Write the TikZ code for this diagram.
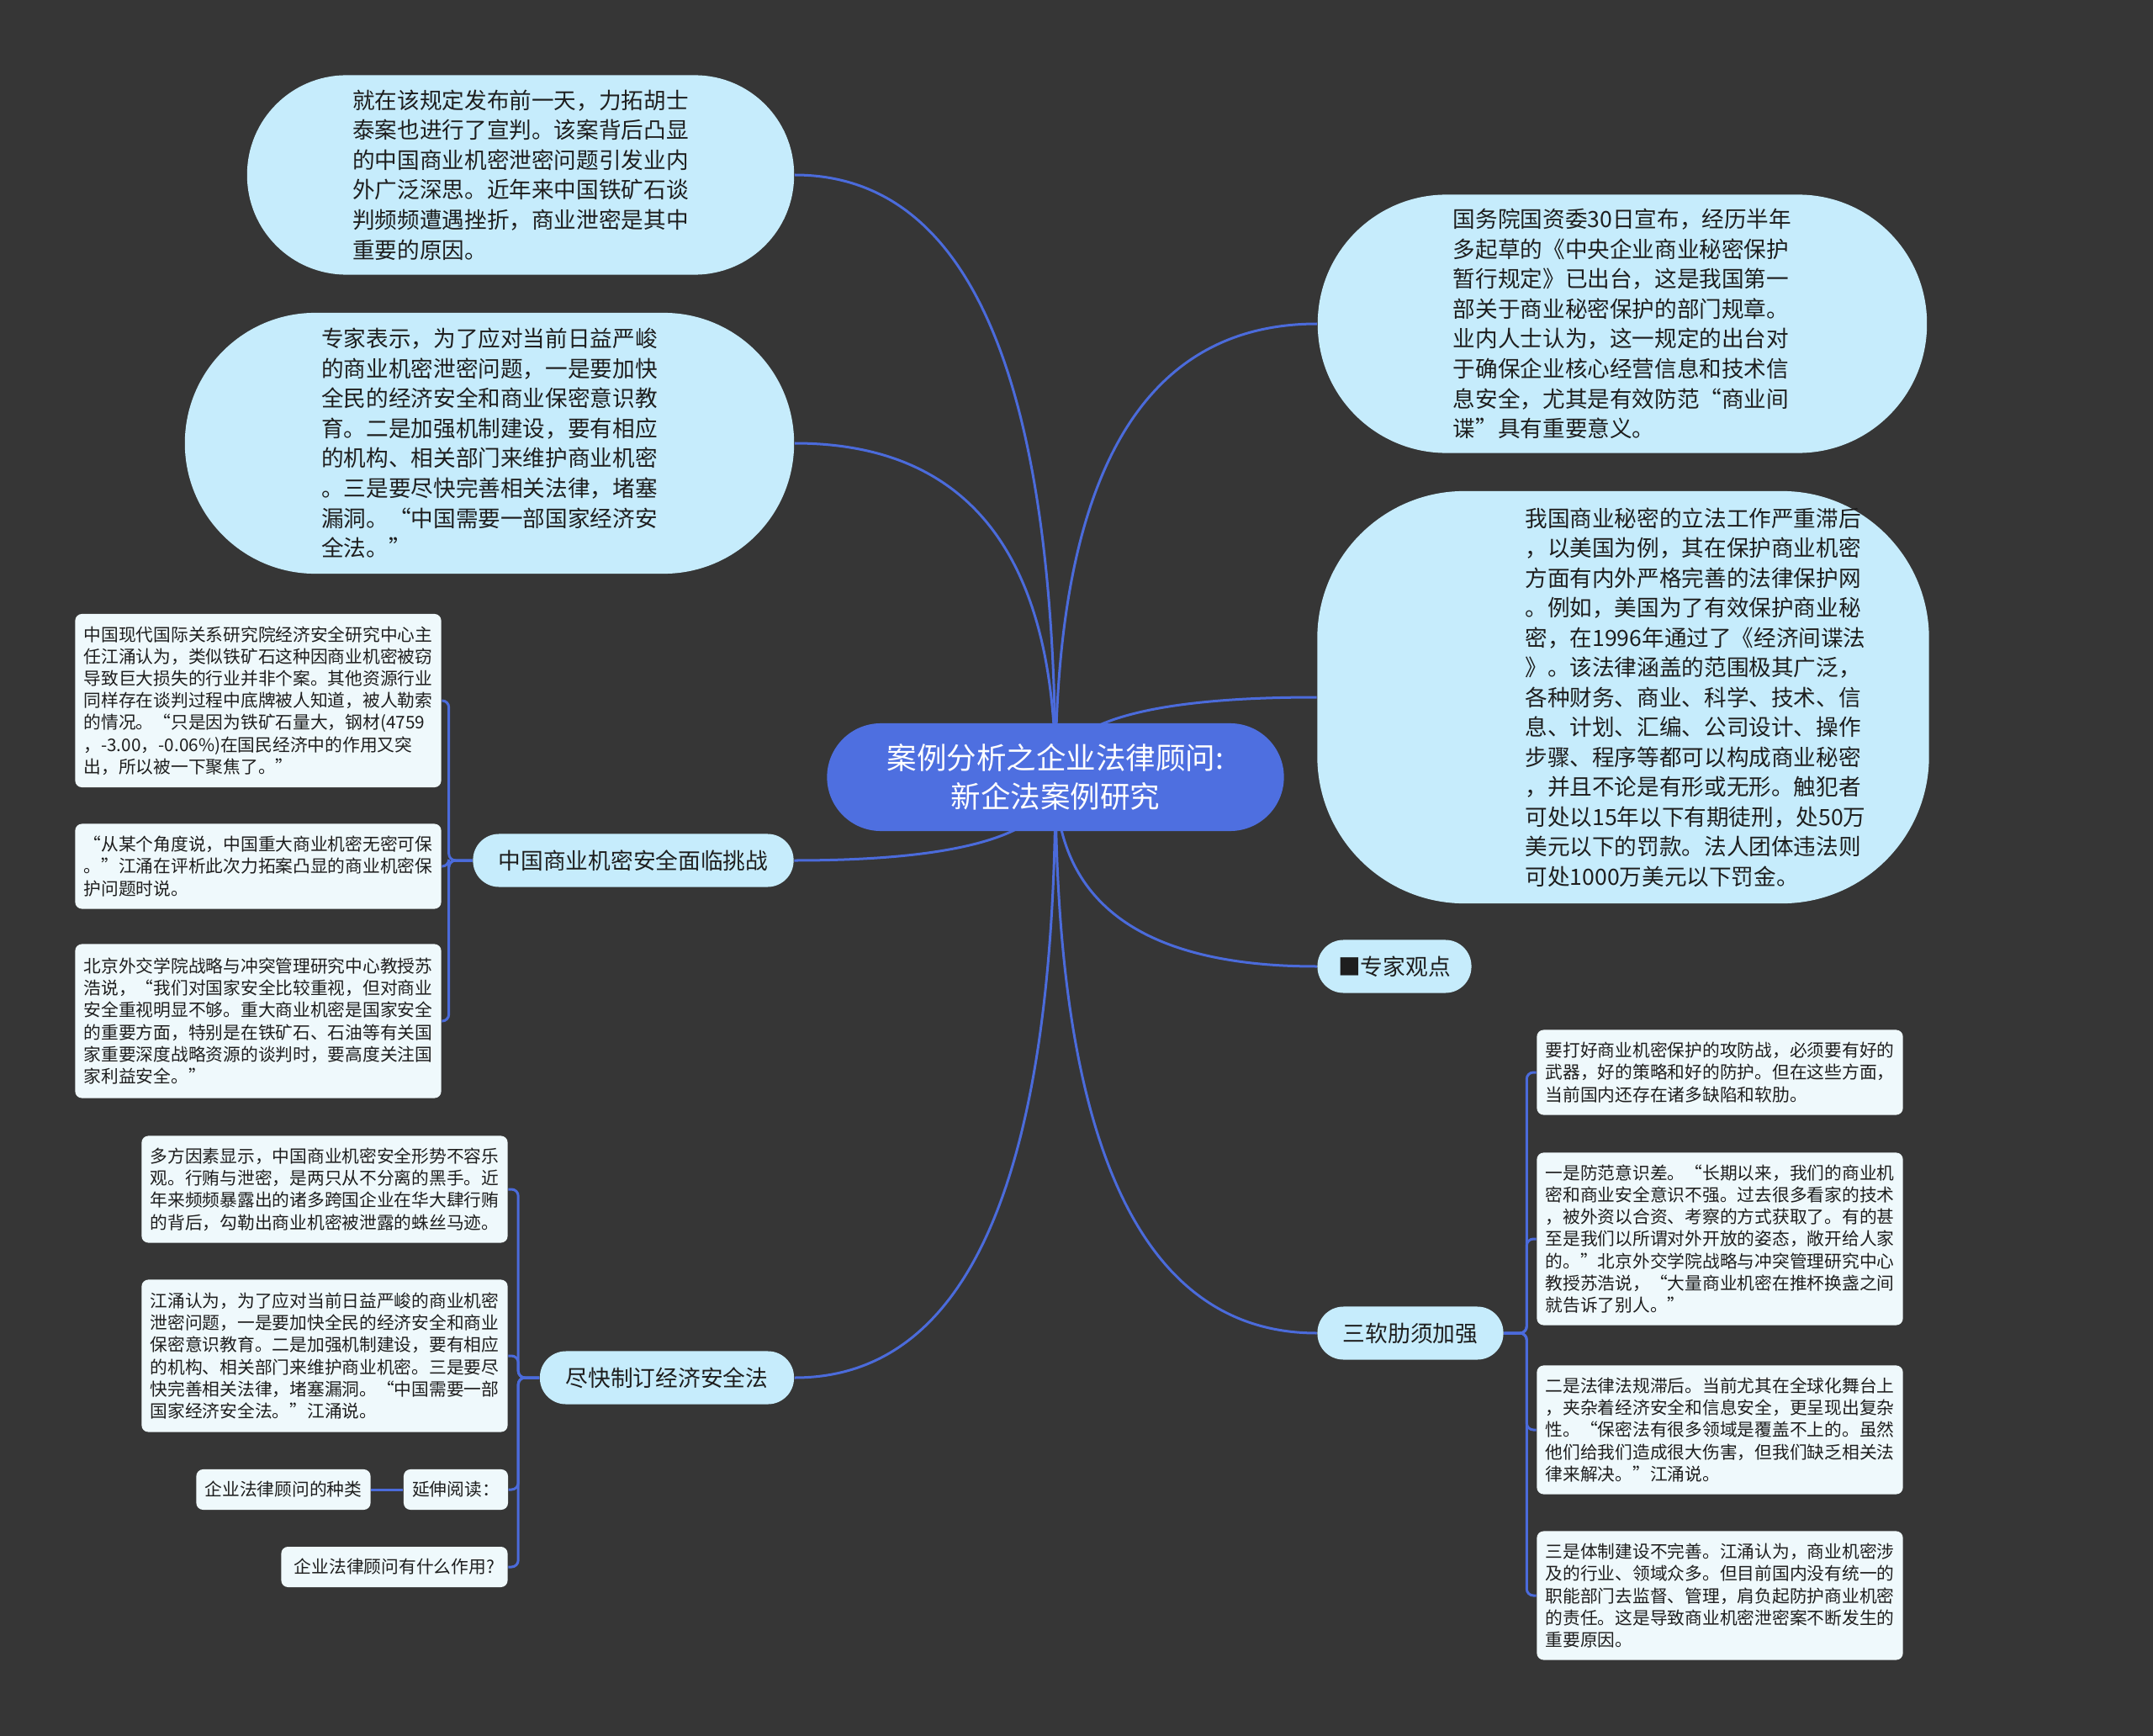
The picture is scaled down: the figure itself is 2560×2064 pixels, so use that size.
\documentclass[tikz,border=0pt]{standalone}
\usepackage{fontspec}
\setmainfont{Noto Sans CJK SC}
\usetikzlibrary{calc}

\definecolor{bgdark}{HTML}{363636}
\definecolor{rootblue}{HTML}{4E6FE0}
\definecolor{linkblue}{HTML}{4B6BDB}
\definecolor{bubblefill}{HTML}{C6ECFC}
\definecolor{leaffill}{HTML}{EFF9FC}
\definecolor{textdark}{HTML}{1E1E1E}

\pgfdeclarelayer{back}
\pgfdeclarelayer{wires}
\pgfsetlayers{back,wires,main}

\begin{document}
\begin{tikzpicture}[x=0.01cm,y=-0.01cm,
  root/.style={fill=rootblue, text=white, align=center, rounded corners=0.64cm,
    minimum width=5.43cm, minimum height=1.28cm, font=\fontsize{10.1}{13}\selectfont},
  bubble/.style={fill=bubblefill, text=textdark, align=left, inner sep=0.05cm,
    font=\fontsize{7.57}{10.1}\selectfont},
  topic/.style={fill=bubblefill, text=textdark, rounded corners=0.31cm,
    minimum height=0.63cm, font=\fontsize{7.6}{10}\selectfont},
  leaf/.style={fill=leaffill, text=textdark, align=left, rounded corners=0.08cm,
    inner sep=0.1cm, minimum width=4.35cm, font=\fontsize{5.9}{7.45}\selectfont},
  link/.style={draw=linkblue, line width=0.03cm},
  wire/.style={link, rounded corners=0.08cm}]

\begin{pgfonlayer}{back}
\fill[bgdark] (0,0) rectangle (2560,2064);
\end{pgfonlayer}

% central topic
\node[root] (root) at (1255,924) {案例分析之企业法律顾问:\\新企法案例研究};

% big bubbles
\node[bubble, minimum width=6.5cm, minimum height=2.37cm, rounded corners=1.18cm] (b1) at (619,208)
  {就在该规定发布前一天，力拓胡士\\泰案也进行了宣判。该案背后凸显\\的中国商业机密泄密问题引发业内\\外广泛深思。近年来中国铁矿石谈\\判频频遭遇挫折，商业泄密是其中\\重要的原因。};
\node[bubble, minimum width=7.24cm, minimum height=3.1cm, rounded corners=1.55cm] (b2) at (582,527)
  {专家表示，为了应对当前日益严峻\\的商业机密泄密问题，一是要加快\\全民的经济安全和商业保密意识教\\育。二是加强机制建设，要有相应\\的机构、相关部门来维护商业机密\\。三是要尽快完善相关法律，堵塞\\漏洞。“中国需要一部国家经济安\\全法。”};
\node[bubble, minimum width=7.24cm, minimum height=3.07cm, rounded corners=1.53cm] (b3) at (1929,385)
  {国务院国资委30日宣布，经历半年\\多起草的《中央企业商业秘密保护\\暂行规定》已出台，这是我国第一\\部关于商业秘密保护的部门规章。\\业内人士认为，这一规定的出台对\\于确保企业核心经营信息和技术信\\息安全，尤其是有效防范“商业间\\谍”具有重要意义。};
\node[bubble, minimum width=7.27cm, minimum height=4.9cm, rounded corners=1.75cm] (b4) at (1930,829) {};
\node[bubble, fill=none] (b4text) at (2016,829)
  {我国商业秘密的立法工作严重滞后\\，以美国为例，其在保护商业机密\\方面有内外严格完善的法律保护网\\。例如，美国为了有效保护商业秘\\密，在1996年通过了《经济间谍法\\》。该法律涵盖的范围极其广泛，\\各种财务、商业、科学、技术、信\\息、计划、汇编、公司设计、操作\\步骤、程序等都可以构成商业秘密\\，并且不论是有形或无形。触犯者\\可处以15年以下有期徒刑，处50万\\美元以下的罚款。法人团体违法则\\可处1000万美元以下罚金。};

% topics
\node[topic, minimum width=3.81cm] (c1) at (753,1023) {中国商业机密安全面临挑战};
\node[topic, minimum width=3.02cm] (c2) at (793,1638) {尽快制订经济安全法};
\node[topic, minimum width=1.83cm] (c3) at (1658,1149) {■专家观点};
\node[topic, minimum width=2.21cm] (c4) at (1677,1585) {三软肋须加强};

% leaves, left
\node[leaf, minimum height=2.06cm] (l1) at (307,833)
  {中国现代国际关系研究院经济安全研究中心主\\任江涌认为，类似铁矿石这种因商业机密被窃\\导致巨大损失的行业并非个案。其他资源行业\\同样存在谈判过程中底牌被人知道，被人勒索\\的情况。“只是因为铁矿石量大，钢材(4759\\，-3.00，-0.06\%)在国民经济中的作用又突\\出，所以被一下聚焦了。”};
\node[leaf, minimum height=1.01cm] (l2) at (307,1030)
  {“从某个角度说，中国重大商业机密无密可保\\。”江涌在评析此次力拓案凸显的商业机密保\\护问题时说。};
\node[leaf, minimum height=1.83cm] (l3) at (307,1214)
  {北京外交学院战略与冲突管理研究中心教授苏\\浩说，“我们对国家安全比较重视，但对商业\\安全重视明显不够。重大商业机密是国家安全\\的重要方面，特别是在铁矿石、石油等有关国\\家重要深度战略资源的谈判时，要高度关注国\\家利益安全。”};
\node[leaf, minimum height=1.27cm] (d1) at (386,1414)
  {多方因素显示，中国商业机密安全形势不容乐\\观。行贿与泄密，是两只从不分离的黑手。近\\年来频频暴露出的诸多跨国企业在华大肆行贿\\的背后，勾勒出商业机密被泄露的蛛丝马迹。};
\node[leaf, minimum height=1.81cm] (d2) at (386,1612)
  {江涌认为，为了应对当前日益严峻的商业机密\\泄密问题，一是要加快全民的经济安全和商业\\保密意识教育。二是加强机制建设，要有相应\\的机构、相关部门来维护商业机密。三是要尽\\快完善相关法律，堵塞漏洞。“中国需要一部\\国家经济安全法。”江涌说。};
\node[leaf, minimum width=1.24cm, minimum height=0.48cm] (d3) at (542,1771) {延伸阅读：};
\node[leaf, minimum width=2.07cm, minimum height=0.48cm] (d4) at (337,1771) {企业法律顾问的种类};
\node[leaf, minimum width=2.69cm, minimum height=0.48cm] (d5) at (469,1863) {企业法律顾问有什么作用?};

% leaves, right
\node[leaf, minimum height=1.01cm] (r1) at (2045,1275)
  {要打好商业机密保护的攻防战，必须要有好的\\武器，好的策略和好的防护。但在这些方面，\\当前国内还存在诸多缺陷和软肋。};
\node[leaf, minimum height=2.05cm] (r2) at (2045,1473)
  {一是防范意识差。“长期以来，我们的商业机\\密和商业安全意识不强。过去很多看家的技术\\，被外资以合资、考察的方式获取了。有的甚\\至是我们以所谓对外开放的姿态，敞开给人家\\的。”北京外交学院战略与冲突管理研究中心\\教授苏浩说，“大量商业机密在推杯换盏之间\\就告诉了别人。”};
\node[leaf, minimum height=1.53cm] (r3) at (2045,1700)
  {二是法律法规滞后。当前尤其在全球化舞台上\\，夹杂着经济安全和信息安全，更呈现出复杂\\性。“保密法有很多领域是覆盖不上的。虽然\\他们给我们造成很大伤害，但我们缺乏相关法\\律来解决。”江涌说。};
\node[leaf, minimum height=1.53cm] (r4) at (2045,1897)
  {三是体制建设不完善。江涌认为，商业机密涉\\及的行业、领域众多。但目前国内没有统一的\\职能部门去监督、管理，肩负起防护商业机密\\的责任。这是导致商业机密泄密案不断发生的\\重要原因。};

% connectors
\begin{pgfonlayer}{wires}
\foreach \target in {b1.east,b2.east,b3.west,b4.west,c1.east,c2.east,c3.west,c4.west}
  \draw[link] (root.center) .. controls ($(root.center)!2/3!(root.center |- \target)$)
    and ($(\target)!2/3!(root.center |- \target)$) .. (\target);
\foreach \leaf in {l1,l2,l3}
  \draw[wire] (c1.west) -- ++(-28,0) |- (\leaf.east);
\foreach \leaf in {d1,d2,d3,d5}
  \draw[wire] (c2.west) -- ++(-25,0) |- (\leaf.east);
\draw[link] (d3.west) -- (d4.east);
\foreach \leaf in {r1,r2,r3,r4}
  \draw[wire] (c4.east) -- ++(27,0) |- (\leaf.west);
\end{pgfonlayer}
\end{tikzpicture}
\end{document}
